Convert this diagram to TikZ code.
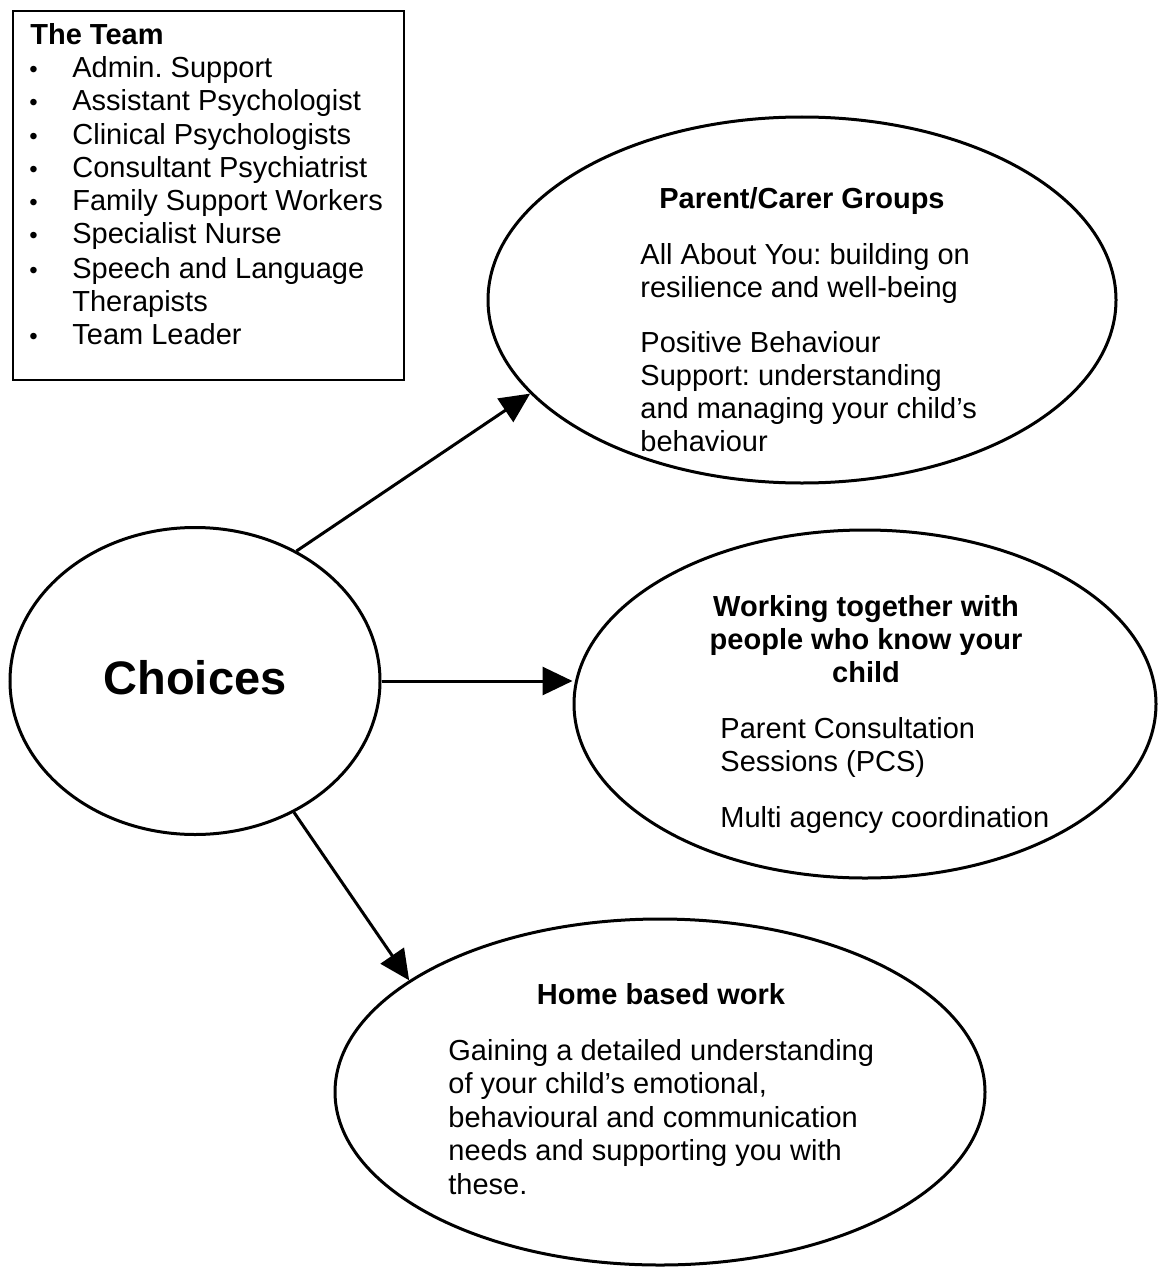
\documentclass[tikz,border=0pt]{standalone}
\usepackage{fontspec}
\setmainfont{Liberation Sans}
\frenchspacing
\usetikzlibrary{shapes.geometric,arrows.meta}
\tikzset{
  bubble/.style={draw, ellipse, line width=1.5pt, inner sep=0pt},
  txt/.style={inner sep=0pt, anchor=base west, font=\fontsize{14.5}{16.5}\selectfont},
  ttl/.style={inner sep=0pt, anchor=base, font=\fontsize{14.5}{16.5}\selectfont\bfseries},
  conn/.style={line width=1.5pt, -{Triangle[length=15pt,width=14pt]}},
}
\begin{document}
\begin{tikzpicture}[x=0.5pt,y=-0.5pt]
\useasboundingbox (0,0) rectangle (1161,1268);
% team box
\node[draw, line width=1.2pt, minimum width=195.5pt, minimum height=184.5pt, inner sep=0pt, anchor=north west] (team) at (12,10) {};
\node[txt, font=\fontsize{14.5}{16.5}\selectfont\bfseries] (teamtitle) at (30,45) {The Team};
\foreach \y/\t [count=\i] in {78/Admin. Support, 111/Assistant Psychologist, 144/Clinical Psychologists, 177/Consultant Psychiatrist, 210/Family Support Workers, 243/Specialist Nurse, 278/Speech and Language, 344/Team Leader}{
  \node[txt] (bul\i) at (29,\y) {\fontsize{12}{14}\selectfont •};
  \node[txt] (mem\i) at (72,\y) {\t};
}
\node[txt] (mem9) at (72,311) {Therapists};
% bubbles
\node[bubble, minimum width=185pt, minimum height=153.5pt] (choices) at (195,681) {};
\node[inner sep=0pt, font=\fontsize{23.5}{28}\selectfont\bfseries] (choicestxt) at (195,678) {Choices};
\node[bubble, minimum width=314pt, minimum height=183pt] (pcg) at (802,300) {};
\node[bubble, minimum width=291pt, minimum height=174pt] (wt) at (865,704) {};
\node[bubble, minimum width=325pt, minimum height=173pt] (home) at (660,1092) {};
% parent/carer text
\node[ttl] (pcgt) at (802,208) {Parent/Carer Groups};
\node[txt] (pcg1) at (640,264) {All About You: building on};
\node[txt] (pcg2) at (640,297) {resilience and well-being};
\node[txt] (pcg3) at (640,352) {Positive Behaviour};
\node[txt] (pcg4) at (640,385) {Support: understanding};
\node[txt] (pcg5) at (640,418) {and managing your child’s};
\node[txt] (pcg6) at (640,451) {behaviour};
% working together text
\node[ttl] (wtt1) at (866,616) {Working together with};
\node[ttl] (wtt2) at (866,649) {people who know your};
\node[ttl] (wtt3) at (866,682) {child};
\node[txt] (wt1) at (720,738) {Parent Consultation};
\node[txt] (wt2) at (720,771) {Sessions (PCS)};
\node[txt] (wt3) at (720,827) {Multi agency coordination};
% home text
\node[ttl] (homet) at (661,1004) {Home based work};
\node[txt] (home1) at (448,1060) {Gaining a detailed understanding};
\node[txt] (home2) at (448,1093) {of your child’s emotional,};
\node[txt] (home3) at (448,1127) {behavioural and communication};
\node[txt] (home4) at (448,1160) {needs and supporting you with};
\node[txt] (home5) at (448,1194) {these.};
% connectors
\draw[conn] (choices.52.8) -- (pcg.199.8);
\draw[conn] (choices.east) -- (choices.east -| wt.west);
\draw[conn] (choices.-53.2) -- (home.156.9);
\end{tikzpicture}
\end{document}
